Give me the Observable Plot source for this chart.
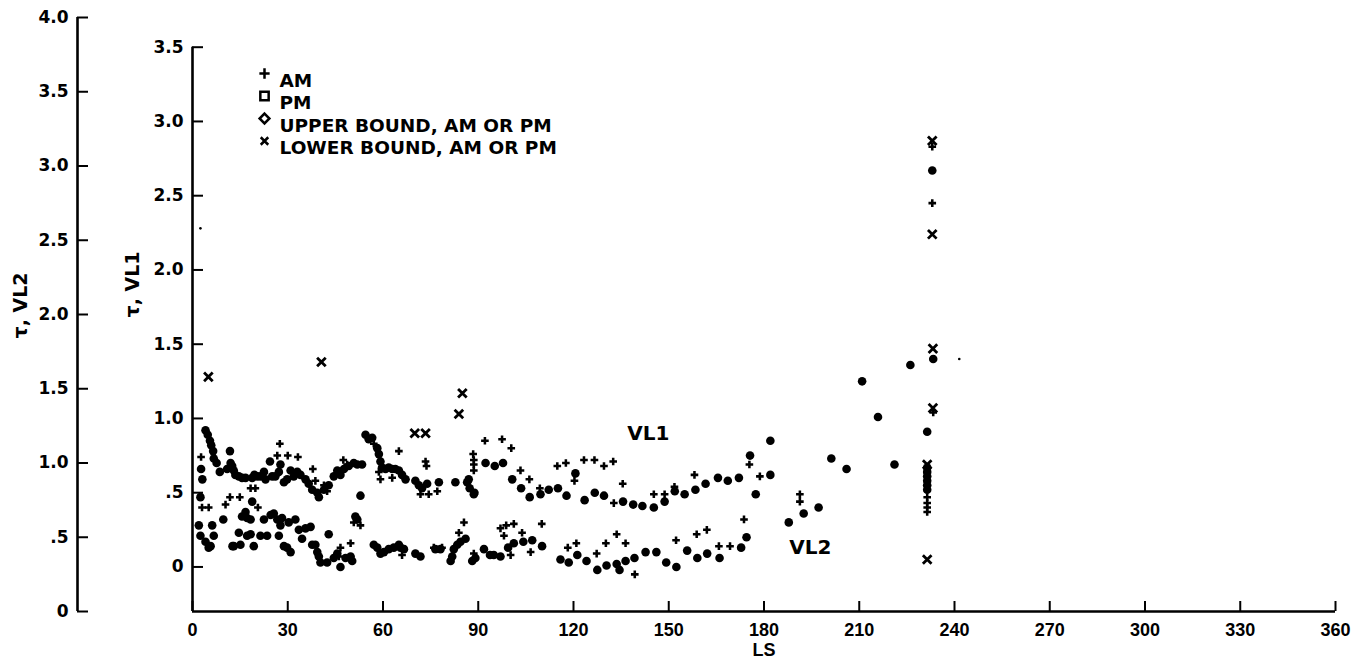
<!DOCTYPE html>
<html><head><meta charset="utf-8">
<script src="https://cdn.jsdelivr.net/npm/d3@7"></script>
<script src="https://cdn.jsdelivr.net/npm/@observablehq/plot@0.6"></script>
<style>
html,body{margin:0;padding:0;background:#fff;}
#chart svg{display:block;}
</style></head><body><div id="chart"></div>
<script>
// ---- axis ticks ----
const xTicks = [0, 30, 60, 90, 120, 150, 180, 210, 240, 270, 300, 330, 360];
const vl1Ticks = [0, 0.5, 1, 1.5, 2, 2.5, 3, 3.5];
const vl2Ticks = [0, 0.5, 1, 1.5, 2, 2.5, 3, 3.5, 4];
const VL2_SHIFT = 0.3; // VL2 axis is drawn 0.3 units below the VL1 axis

const legendLabels = ["AM", "PM", "UPPER BOUND, AM OR PM", "LOWER BOUND, AM OR PM"];
const seriesLabels = [
  {text: "VL1", axis: "VL1", ls: 143.6, tau: 0.90},
  {text: "VL2", axis: "VL2", ls: 194.6, tau: 0.43}
];

// ---- data: [LS, tau] ----
const vl1PM = [
[2.5,0.47],[2.7,0.66],[3.1,0.59],[4.1,0.92],[4.8,0.89],[5.5,0.85],[5.9,0.82],[6.5,0.78],[6.7,0.73],[7.6,0.70],[8.6,0.64],[10.9,0.66],[11.8,0.78],[12.0,0.70],[12.5,0.68],[13.0,0.65],[13.5,0.62],[14.6,0.61],[15.6,0.60],[16.7,0.60],[18.8,0.60],[19.5,0.62],[20.4,0.61],[21.4,0.61],[22.5,0.64],[23.0,0.59],[24.4,0.71],[25.1,0.61],[26.1,0.61],[27.2,0.64],[27.7,0.69],[28.8,0.57],[29.8,0.59],[30.9,0.65],[31.9,0.61],[33.0,0.64],[34.0,0.62],[35.6,0.59],[36.6,0.56],[37.7,0.52],[39.3,0.50],[39.8,0.47],[41.4,0.52],[42.9,0.55],[44.5,0.61],[45.6,0.65],[46.6,0.62],[47.7,0.66],[49.2,0.68],[50.8,0.70],[51.9,0.69],[53.4,0.69],[52.9,0.48],[54.5,0.89],[55.5,0.86],[56.6,0.87],[58.2,0.80],[58.7,0.76],[59.2,0.71],[59.7,0.67],[60.8,0.66],[61.8,0.67],[62.9,0.66],[63.9,0.66],[65.0,0.65],[66.0,0.62],[67.1,0.59],[70.2,0.58],[71.3,0.55],[72.3,0.53],[73.9,0.56],[77.6,0.57],[82.8,0.57],[86.5,0.57],[87.0,0.59],[87.3,0.53],[88.6,0.49],[88.8,0.50],
[92.3,0.70],[95.2,0.68],[97.8,0.70],[100.7,0.59],[103.5,0.53],[106.2,0.47],[109.6,0.49],[112.2,0.52],[115.1,0.53],[117.8,0.48],[120.6,0.63],[123.5,0.45],[126.7,0.50],[129.6,0.48],[135.6,0.44],[138.8,0.42],[141.7,0.41],[145.3,0.40],[148.7,0.44],[151.9,0.51],[155.0,0.49],[158.4,0.52],[161.6,0.56],[165.5,0.60],[168.6,0.58],[172.1,0.60],[175.6,0.75],[177.4,0.49],[182.0,0.62],[182.0,0.85],
[201.2,0.73],[206.0,0.66],[210.9,1.25],[215.9,1.01],[221.1,0.69],[226.1,1.36],[231.4,0.91],[233.3,1.40],[233.0,2.67],
[231.4,0.67],[231.4,0.64],[231.4,0.61],[231.4,0.58],[231.4,0.55],[231.4,0.52]
];
const vl1AM = [
[2.7,0.74],[3.0,0.40],[5.1,0.40],[10.4,0.42],[11.8,0.47],[14.9,0.47],[18.3,0.53],[19.8,0.53],[20.6,0.40],
[26.7,0.75],[27.5,0.83],[30.0,0.75],[33.2,0.74],[37.9,0.66],[38.7,0.58],[41.4,0.55],[42.4,0.51],[47.5,0.72],[48.7,0.69],[57.1,0.83],[58.7,0.64],[59.2,0.59],[62.9,0.60],[65.0,0.78],[71.8,0.49],[73.4,0.71],[73.7,0.68],[74.4,0.49],[77.1,0.51],[88.4,0.76],[88.6,0.72],[88.6,0.69],[88.6,0.65],
[92.1,0.85],[97.5,0.86],[100.4,0.80],[103.3,0.65],[106.1,0.59],[109.4,0.53],[114.9,0.68],[117.6,0.70],[120.3,0.58],[123.3,0.72],[126.6,0.72],[129.6,0.68],[132.5,0.71],[132.7,0.43],[135.5,0.56],[145.3,0.49],[148.7,0.49],[151.8,0.54],[158.1,0.62],[175.4,0.69],[178.7,0.61],
[233.0,2.83],[233.0,2.45],[233.3,1.04],[231.4,0.47],[231.4,0.43],[231.4,0.40],[231.4,0.37]
];
const vl1Lower = [[5.0,1.28],[40.6,1.38],[70.0,0.90],[73.4,0.90],[83.9,1.03],[85.0,1.17],[233.0,2.87],[233.0,2.24],[233.2,1.47],[233.2,1.07],[231.4,0.69],[231.4,0.05]];

const vl2PM = [
[2.0,0.58],[2.5,0.51],[4.1,0.47],[5.1,0.43],[5.7,0.44],[6.2,0.58],[6.7,0.51],[9.7,0.62],[13.0,0.44],[12.6,0.44],[14.6,0.53],[15.1,0.45],[15.6,0.64],[16.7,0.67],[17.2,0.63],[18.3,0.62],[18.8,0.74],[17.2,0.51],[18.3,0.52],[19.3,0.44],[21.4,0.51],[22.5,0.62],[23.5,0.51],[24.6,0.65],[25.6,0.66],[26.7,0.62],[27.7,0.58],[27.2,0.51],[28.2,0.63],[28.8,0.44],[29.8,0.43],[30.9,0.40],[30.3,0.60],[32.4,0.62],[33.5,0.55],[34.5,0.49],[35.6,0.56],[37.2,0.57],[37.7,0.45],[38.7,0.45],[39.3,0.40],[39.8,0.37],[40.3,0.33],[42.4,0.33],[42.9,0.52],[44.5,0.36],[45.6,0.39],[46.6,0.30],[48.2,0.36],[49.8,0.37],[50.3,0.34],[51.3,0.64],[51.9,0.62],[57.1,0.45],[58.2,0.43],[59.2,0.39],[60.3,0.40],[61.8,0.42],[63.4,0.43],[65.0,0.45],[65.5,0.43],[66.6,0.42],[70.2,0.39],[71.8,0.37],[76.5,0.42],[78.1,0.42],[81.3,0.34],[81.8,0.37],[82.3,0.42],[83.4,0.45],[84.4,0.47],[86.0,0.49],[88.1,0.34],[89.1,0.36],
[91.8,0.42],[93.7,0.38],[94.9,0.38],[97.0,0.37],[99.4,0.43],[101.2,0.46],[104.2,0.47],[107.0,0.48],[110.1,0.44],[115.9,0.35],[118.5,0.33],[121.2,0.38],[124.1,0.34],[127.5,0.28],[130.4,0.31],[133.6,0.32],[134.5,0.28],[136.4,0.34],[139.2,0.36],[142.7,0.40],[146.1,0.40],[149.2,0.33],[152.4,0.30],[155.8,0.41],[159.0,0.36],[162.1,0.39],[166.0,0.36],[172.8,0.43],[174.5,0.50],
[187.8,0.60],[192.5,0.66],[197.2,0.70]
];
const vl2AM = [
[46.1,0.37],[46.6,0.43],[49.8,0.46],[50.8,0.60],[52.9,0.58],[66.0,0.38],[76.0,0.43],[78.6,0.43],[83.9,0.53],[85.5,0.60],[88.6,0.39],
[97.0,0.56],[98.1,0.51],[98.8,0.58],[100.2,0.38],[101.2,0.59],[103.8,0.53],[106.5,0.40],[110.0,0.59],[118.2,0.43],[120.9,0.46],[127.3,0.39],[130.2,0.46],[133.6,0.52],[136.4,0.46],[139.3,0.25],[152.3,0.48],[158.8,0.52],[162.0,0.55],[165.8,0.44],[169.3,0.44],[173.7,0.62],[191.3,0.79],[191.3,0.74]
];
const specks = [[2.5,2.28],[241.5,1.40]];

// ---- helpers ----
const fmt = v => { const r = Math.round(v * 10) / 10; return r === 0 ? "0" : r.toFixed(1).replace(/^0/, ""); };
const LS = d => d[0];
const T1 = d => d[1];
const T2 = d => d[1] - VL2_SHIFT;
const yMin = -VL2_SHIFT;
const yMax = d3.max(vl2Ticks) - VL2_SHIFT;
const OUTER_DX = -115;
const WIDE = "'DejaVu Sans', Verdana, sans-serif";
const NARROW = "'Liberation Sans', Arial, Helvetica, sans-serif";

const legendSymbols = [
  {symbol: "plus", fill: "none", stroke: "black", r: 3.4},
  {symbol: "square2", fill: "none", stroke: "black", r: 5.3},
  {symbol: "diamond2", fill: "none", stroke: "black", r: 4.4},
  {symbol: "times", fill: "none", stroke: "black", r: 3.5}
];
const legendMarks = legendLabels.flatMap((label, i) => [
  Plot.dot([label], {frameAnchor: "top-left", dx: 72, dy: 56 + i * 22.5, strokeWidth: 2.5, ...legendSymbols[i]}),
  Plot.text([label], {frameAnchor: "top-left", dx: 87, dy: 56 + i * 22.5, text: d => d, textAnchor: "start", fontSize: 18.5, fontWeight: "bold", fontFamily: WIDE})
]);

const chart = Plot.plot({
  width: 1369,
  height: 669,
  marginLeft: 192,
  marginRight: 34,
  marginTop: 17,
  marginBottom: 58,
  style: {fontFamily: NARROW, fontSize: "18px", fontWeight: "bold", color: "black", background: "white"},
  x: {domain: [0, 360]},
  y: {domain: [yMin, yMax]},
  marks: [
    // axis lines
    Plot.ruleY([yMin], {x1: 0, x2: d3.max(xTicks), strokeWidth: 2.6}),
    Plot.ruleX([0], {y1: yMin, y2: d3.max(vl1Ticks), strokeWidth: 2.6}),
    Plot.ruleX([0], {y1: yMin, y2: yMax, dx: OUTER_DX, strokeWidth: 2.6}),
    // inward ticks
    Plot.ruleX(xTicks, {x: d => d, y1: yMin, y2: yMin, insetTop: -10, strokeWidth: 2}),
    Plot.ruleY(vl1Ticks, {y: d => d, x1: 0, x2: 0, insetRight: -11, strokeWidth: 2}),
    Plot.ruleY(vl2Ticks.map(v => v - VL2_SHIFT), {y: d => d, x1: 0, x2: 0, insetRight: -11, dx: OUTER_DX, strokeWidth: 2}),
    // tick labels
    Plot.axisX({ticks: xTicks, tickFormat: d => String(d), tickSize: 0, tickPadding: 12, label: null, fontSize: 18, fontFamily: NARROW}),
    Plot.axisY({ticks: vl1Ticks, tickFormat: fmt, tickSize: 0, tickPadding: 9, label: null, fontSize: 17, fontFamily: WIDE}),
    Plot.axisY({ticks: vl2Ticks.map(v => v - VL2_SHIFT), tickFormat: v => fmt(v + VL2_SHIFT), dx: OUTER_DX, tickSize: 0, tickPadding: 9, label: null, fontSize: 17, fontFamily: WIDE}),
    // axis titles
    Plot.text(["LS"], {frameAnchor: "bottom", dy: 44, text: d => d, fontSize: 18, fontWeight: "bold", fontFamily: NARROW}),
    Plot.text(["τ, VL1"], {frameAnchor: "left", dx: -60, dy: 3, rotate: -90, text: d => d, fontSize: 19, fontWeight: "bold", fontFamily: WIDE}),
    Plot.text(["τ, VL2"], {frameAnchor: "left", dx: -172, dy: 24, rotate: -90, text: d => d, fontSize: 19, fontWeight: "bold", fontFamily: WIDE}),
    // data VL1
    Plot.dot(vl1PM, {x: LS, y: T1, r: 4.3, fill: "black"}),
    Plot.dot(vl1AM, {x: LS, y: T1, r: 3.2, symbol: "cross", fill: "black"}),
    Plot.dot(vl1Lower, {x: LS, y: T1, r: 4, symbol: "times", stroke: "black", strokeWidth: 2.8}),
    // data VL2
    Plot.dot(vl2PM, {x: LS, y: T2, r: 4.3, fill: "black"}),
    Plot.dot(vl2AM, {x: LS, y: T2, r: 3.2, symbol: "cross", fill: "black"}),
    Plot.dot(specks, {x: LS, y: T1, r: 1.3, fill: "black"}),
    // series labels
    Plot.text(seriesLabels, {x: "ls", y: d => d.axis === "VL2" ? d.tau - VL2_SHIFT : d.tau, text: "text", fontSize: 20, fontWeight: "bold", fontFamily: WIDE}),
    ...legendMarks
  ]
});
document.getElementById("chart").appendChild(chart);
</script></body></html>
